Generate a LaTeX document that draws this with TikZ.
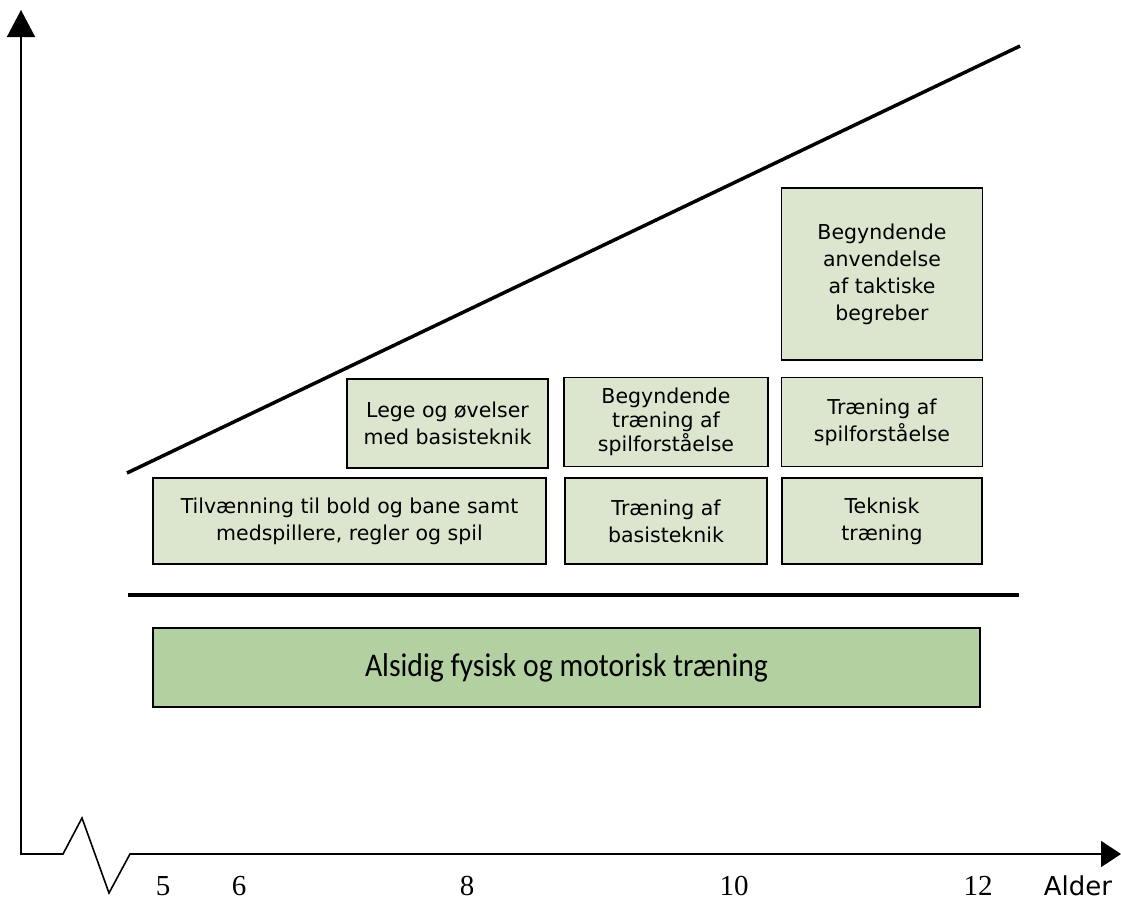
\documentclass[tikz,border=0pt]{standalone}
\usepackage{fontspec}
\setmainfont{DejaVu Sans}
\newfontfamily\numfont{Liberation Serif}
\newfontfamily\condfont[FakeStretch=0.9]{Carlito}
\usetikzlibrary{arrows.meta, positioning}
\definecolor{lightgreen}{RGB}{220,230,207}
\definecolor{midgreen}{RGB}{179,209,160}
\tikzstyle{stage} = [rectangle, draw=black, line width=1.5pt, fill=lightgreen, align=center, inner sep=0pt, font=\fontsize{20.5}{27}\selectfont]
\tikzstyle{basebox} = [stage, fill=midgreen, font=\condfont\fontsize{33}{38}\selectfont]
\tikzstyle{axis} = [line width=1.6pt]
\tikzstyle{bar} = [line width=3.5pt]
\tikzstyle{age} = [font=\numfont\fontsize{29}{32}\selectfont]

\begin{document}
\begin{tikzpicture}[x=1pt, y=-1pt, node distance=10pt]
\useasboundingbox (0,0) rectangle (1121,900);

% axes with the break
\coordinate (ytip) at (21,10);
\coordinate (origin) at (21,854);
\coordinate (xtip) at (1121,854);
\draw[axis, {Triangle[length=27pt,width=28pt]}-{Triangle[length=20pt,width=26pt]}]
  (ytip) -- (origin) -- (63,854) -- (82,818) -- (109,893) -- (130,854) -- (xtip);

% rising line and separator
\coordinate (riseA) at (127,473);
\coordinate (riseB) at (1020,46);
\draw[bar] (riseA) -- (riseB);
\coordinate (sepA) at (128,595);
\coordinate (sepB) at (1019,595);
\draw[bar] (sepA) -- (sepB);

% stages
\node (tilv) [stage, minimum width=393pt, minimum height=86pt] at (349.5,521) {Tilvænning til bold og bane samt\\medspillere, regler og spil};
\node (lege) [stage, minimum width=201pt, minimum height=89pt] at (447.5,423.5) {Lege og øvelser\\med basisteknik};
\node (basis) [stage, minimum width=202pt, minimum height=86pt] at (666,521) {Træning af\\basisteknik};
\node (begspil) [stage, minimum width=204pt, minimum height=89pt, above=of basis, font=\fontsize{20.5}{24}\selectfont] {Begyndende\\træning af\\spilforståelse};
\node (teknisk) [stage, minimum width=200pt, minimum height=86pt] at (882,521) {Teknisk\\træning};
\node (spil) [stage, minimum width=201pt, minimum height=89pt, above=of teknisk] {Træning af\\spilforståelse};
\node (taktik) [stage, minimum width=201pt, minimum height=172pt, above=16pt of spil] {Begyndende\\anvendelse\\af taktiske\\begreber};

\node (alsidig) [basebox, minimum width=827pt, minimum height=79pt] at (566.5,667.5) {Alsidig fysisk og motorisk træning};

% ages
\node (a5) [age] at (163,886) {5};
\node (a6) [age] at (239,886) {6};
\node (a8) [age] at (467,886) {8};
\node (a10) [age] at (734,886) {10};
\node (a12) [age] at (978,886) {12};
\node (alder) [font=\fontsize{26}{28}\selectfont] at (1078,886) {Alder};
\end{tikzpicture}
\end{document}
